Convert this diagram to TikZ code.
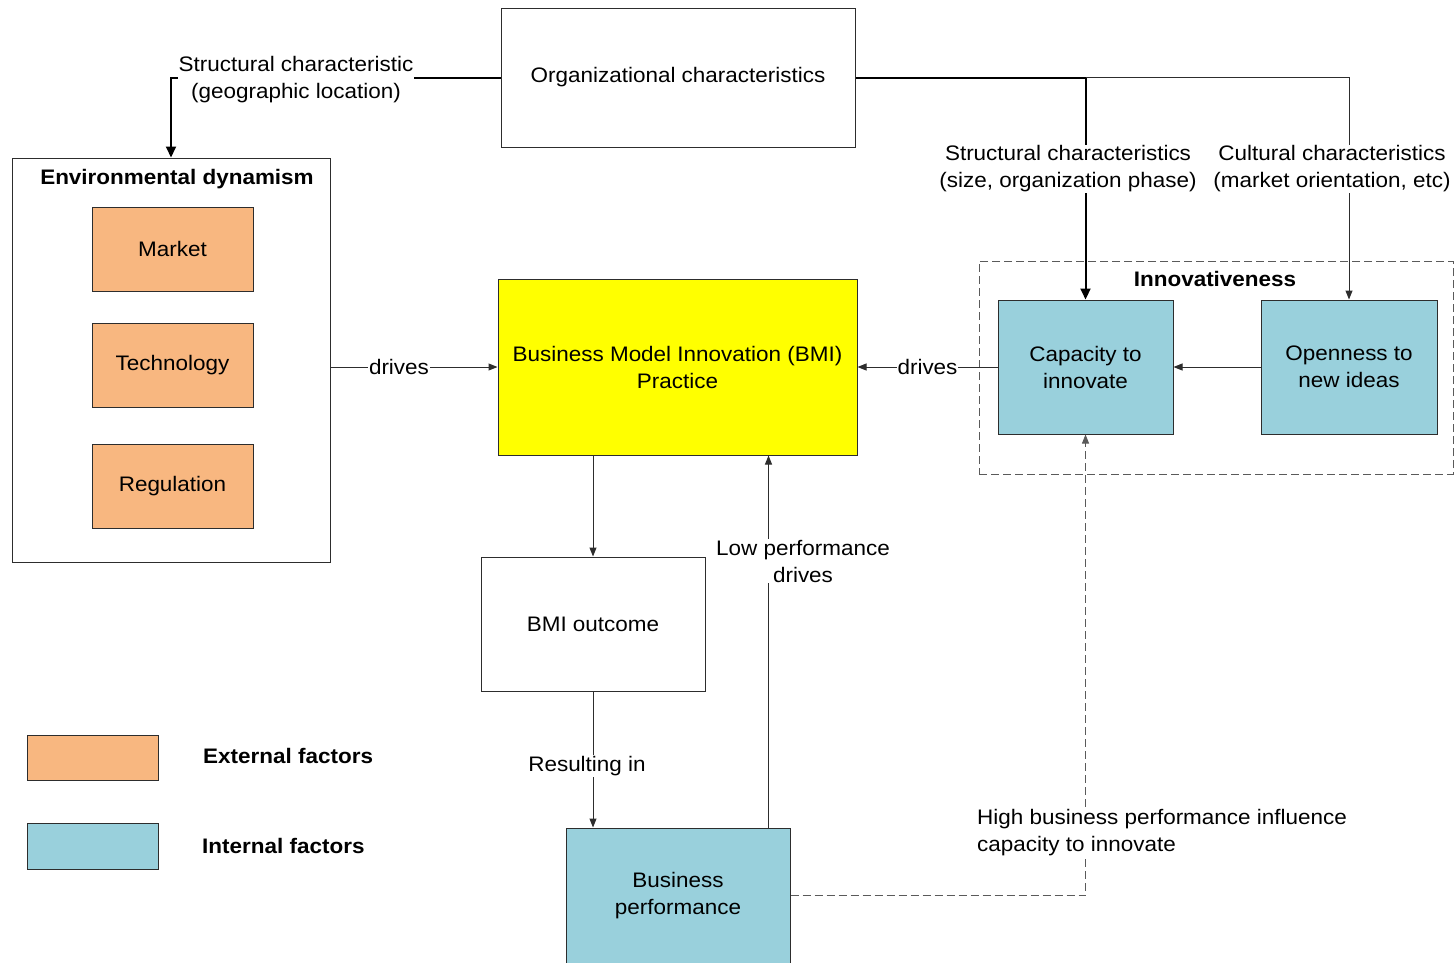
\documentclass[tikz,border=0pt]{standalone}
\usepackage{fontspec}
\setmainfont{Liberation Sans}[FakeStretch=1.07]
\usetikzlibrary{arrows.meta,calc}
\definecolor{extfill}{RGB}{248,183,128}
\definecolor{intfill}{RGB}{153,208,220}
\definecolor{bmifill}{RGB}{255,255,0}
\definecolor{edge}{RGB}{45,45,45}
\definecolor{dashgray}{RGB}{90,90,90}
\begin{document}
\begin{tikzpicture}[x=1pt,y=-1pt,
  every node/.style={font=\fontsize{21}{27}\selectfont, inner sep=0pt, align=center},
  box/.style={draw=edge, line width=1pt, fill=white},
  ext/.style={box, fill=extfill},
  int/.style={box, fill=intfill},
  grp/.style={draw=dashgray, line width=0.8pt, dash pattern=on 8pt off 4pt},
  ttl/.style={font=\fontsize{21}{27}\selectfont\bfseries},
  lbl/.style={fill=white, inner sep=1pt},
  thinarrow/.style={draw=edge, line width=1pt, -{Triangle[length=9pt,width=7pt]}},
  thickarrow/.style={draw=black, line width=2pt, -{Triangle[length=11pt,width=10pt]}},
  dasharrow/.style={draw=dashgray, line width=0.8pt, dash pattern=on 8pt off 4pt, -{Triangle[length=9pt,width=7pt]}}
]
\useasboundingbox (0,0) rectangle (1455,962);

% boxes
\node[box, minimum width=354, minimum height=139] (org) at (678,77.5) {Organizational characteristics};
\node[box, minimum width=318, minimum height=404] (env) at (171,360) {};
\node[ttl] (envt) at (177,179) {Environmental dynamism};
\node[ext, minimum width=161, minimum height=84] (market) at (172.5,249) {Market};
\node[ext, minimum width=161, minimum height=84] (tech) at (172.5,365) {Technology};
\node[ext, minimum width=161, minimum height=84] (reg) at (172.5,486) {Regulation};

\node[box, fill=bmifill, minimum width=359, minimum height=176] (bmi) at (677.5,367) {Business Model Innovation (BMI)\\Practice};

\node[grp, minimum width=474, minimum height=213] (innov) at (1216,367.5) {};
\node[ttl] (innovt) at (1215,279) {Innovativeness};
\node[int, minimum width=175, minimum height=134] (cap) at (1085.5,367) {Capacity to\\innovate};
\node[int, minimum width=176, minimum height=134] (open) at (1349,367) {Openness to\\new ideas};

\node[box, minimum width=224, minimum height=134] (out) at (593,624) {BMI outcome};
\node[int, minimum width=224, minimum height=135] (bp) at (678,895.5) {Business\\performance};

% legend
\node[ext, minimum width=131, minimum height=45] (lext) at (92.5,757.5) {};
\node[int, minimum width=131, minimum height=46] (lint) at (92.5,846) {};
\node[ttl, anchor=west] (lextt) at (203,756) {External factors};
\node[ttl, anchor=west] (lintt) at (202,846) {Internal factors};

% connectors from the organizational characteristics
\coordinate (lowx) at (768.5,0);
\draw[thickarrow] (org.west) -| (env.north);
\draw[thickarrow] (org.east) -| (cap.north);
\draw[thinarrow] (org.east -| cap.north) -| (open.north);
\node[lbl] (geo) at (296,79.5) {Structural characteristic\\(geographic location)};
\node[lbl] (struct) at (1068,169) {Structural characteristics\\(size, organization phase)};
\node[lbl] (cult) at (1332,169) {Cultural characteristics\\(market orientation, etc)};

% drivers of BMI practice
\draw[thinarrow] (env.east |- bmi.west) -- node[lbl, pos=0.41] (d1) {drives} (bmi.west);
\draw[thinarrow] (cap.west) -- node[lbl, pos=0.50] (d2) {drives} (bmi.east);
\draw[thinarrow] (open.west) -- (cap.east);

% outcome chain
\draw[thinarrow] (bmi.south -| out.north) -- (out.north);
\draw[thinarrow] (out.south) -- (out.south |- bp.north);
\node[lbl] (res) at (587,766) {Resulting in};
\draw[thinarrow] (bp.north -| lowx) -- (bmi.south -| lowx);
\node[lbl] (low) at (803,561) {Low performance\\drives};

% feedback to capacity
\draw[dasharrow] (bp.east) -| (cap.south);
\node[lbl, anchor=west, align=left] (high) at (976,832.5) {High business performance influence\\capacity to innovate};
\end{tikzpicture}
\end{document}
